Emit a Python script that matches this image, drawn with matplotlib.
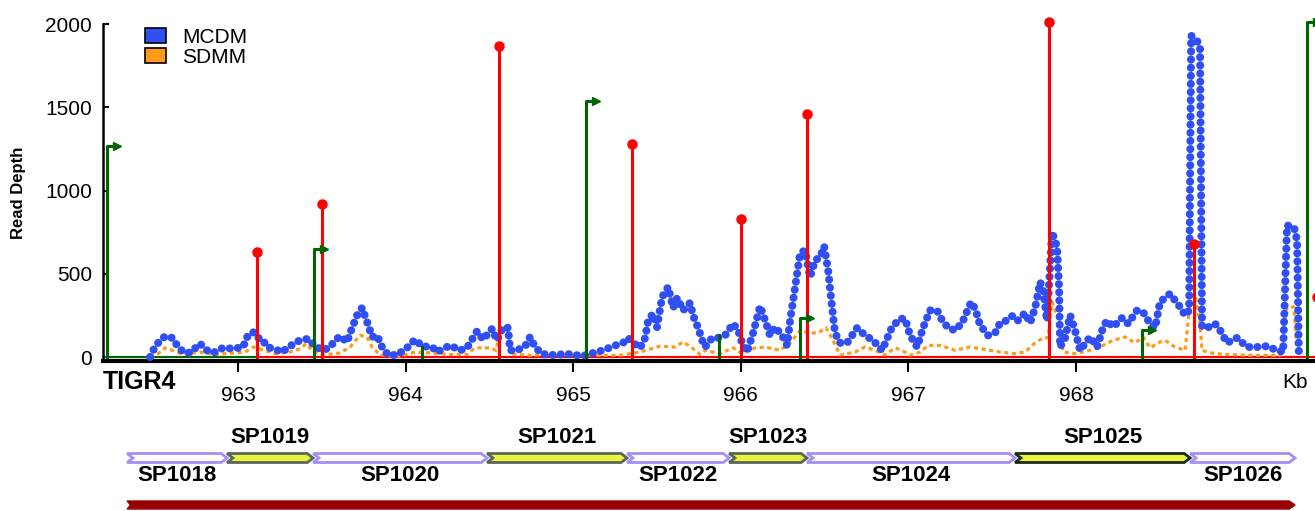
import matplotlib
matplotlib.use('Agg')
import matplotlib.pyplot as plt
from matplotlib.patches import Polygon, Patch
import numpy as np

plt.rcParams['font.family'] = ['Liberation Sans', 'DejaVu Sans']

# read depth, MCDM (position in kb, depth)
mcdm_kb = [962.475, 962.493, 962.523, 962.564, 962.606, 962.636, 962.672, 962.714, 962.773,
           962.815, 962.851, 962.910, 962.970, 963.030, 963.054, 963.090, 963.113, 963.143, 963.173,
           963.209, 963.263, 963.310, 963.358, 963.418, 963.459, 963.507, 963.549, 963.579, 963.609,
           963.650, 963.680, 963.710, 963.740, 963.770, 963.800, 963.829, 963.859, 963.895, 963.949,
           964.008, 964.056, 964.098, 964.158, 964.187, 964.265, 964.325, 964.366, 964.426, 964.462,
           964.516, 964.545, 964.581, 964.611, 964.623, 964.665, 964.713, 964.742, 964.772, 964.814,
           964.880, 964.963, 965.059, 965.118, 965.178, 965.238, 965.297, 965.327, 965.357, 965.399,
           965.429, 965.447, 965.476, 965.500, 965.530, 965.566, 965.596, 965.620, 965.655, 965.697,
           965.715, 965.745, 965.775, 965.787, 965.829, 965.864, 965.906, 965.954, 965.984, 966.007,
           966.037, 966.073, 966.115, 966.145, 966.174, 966.204, 966.246, 966.276, 966.294, 966.324,
           966.354, 966.383, 966.413, 966.443, 966.473, 966.497, 966.521, 966.544, 966.562, 966.592,
           966.634, 966.694, 966.741, 966.789, 966.843, 966.902, 966.950, 966.980, 967.010, 967.052,
           967.087, 967.129, 967.171, 967.201, 967.237, 967.278, 967.320, 967.374, 967.398, 967.428,
           967.475, 967.517, 967.547, 967.589, 967.624, 967.654, 967.696, 967.726, 967.756, 967.786,
           967.804, 967.827, 967.857, 967.887, 967.899, 967.905, 967.935, 967.965, 967.994, 968.024,
           968.084, 968.126, 968.162, 968.185, 968.221, 968.275, 968.311, 968.364, 968.400, 968.442,
           968.472, 968.501, 968.561, 968.591, 968.621, 968.651, 968.675, 968.687, 968.722, 968.740,
           968.752, 968.782, 968.830, 968.860, 968.901, 968.961, 969.021, 969.080, 969.140, 969.200,
           969.236, 969.259, 969.301, 969.319, 969.330]
mcdm_depth = [0, 40, 85, 125, 115, 70, 30, 25, 80,
              40, 25, 55, 50, 60, 120, 150, 115, 110, 60,
              50, 30, 65, 95, 110, 65, 40, 60, 100, 125,
              90, 175, 250, 295, 210, 120, 130, 60, 12, 12,
              55, 105, 65, 60, 30, 70, 40, 55, 155, 105,
              170, 100, 180, 175, 40, 40, 65, 120, 60, 18,
              12, 18, 6, 24, 40, 65, 85, 115, 85, 55,
              115, 220, 260, 180, 360, 420, 295, 355, 280, 325,
              250, 175, 85, 60, 115, 115, 130, 200, 160, 85,
              30, 145, 305, 220, 130, 180, 130, 70, 220, 420,
              625, 640, 480, 580, 600, 665, 520, 300, 145, 85,
              85, 175, 130, 100, 40, 180, 230, 230, 130, 60,
              175, 280, 280, 220, 175, 160, 205, 330, 290, 190,
              130, 145, 205, 220, 250, 220, 265, 205, 295, 450,
              400, 220, 750, 660, 420, 60, 115, 250, 160, 40,
              120, 60, 180, 220, 180, 235, 200, 280, 270, 200,
              175, 330, 380, 340, 300, 250, 280, 1930, 1900, 1860,
              180, 175, 200, 160, 85, 115, 60, 60, 65, 40,
              30, 790, 780, 700, 0]

# read depth, SDMM
sdmm_kb = [962.475, 962.523, 962.564, 962.624, 962.672, 962.773, 962.863, 962.982, 963.042,
           963.090, 963.143, 963.221, 963.310, 963.370, 963.406, 963.442, 963.507, 963.609, 963.668,
           963.728, 963.770, 963.800, 963.847, 963.967, 964.056, 964.146, 964.265, 964.366, 964.414,
           964.504, 964.539, 964.569, 964.605, 964.623, 964.742, 964.832, 964.951, 965.041, 965.160,
           965.280, 965.399, 965.518, 965.608, 965.655, 965.697, 965.757, 965.787, 965.876, 965.954,
           966.007, 966.085, 966.145, 966.234, 966.294, 966.354, 966.401, 966.461, 966.509, 966.550,
           966.592, 966.682, 966.741, 966.801, 966.861, 966.920, 966.980, 967.010, 967.070, 967.117,
           967.189, 967.278, 967.368, 967.457, 967.547, 967.636, 967.696, 967.756, 967.804, 967.833,
           967.857, 967.893, 967.905, 967.923, 967.994, 968.084, 968.143, 968.221, 968.293, 968.352,
           968.400, 968.442, 968.501, 968.531, 968.591, 968.651, 968.681, 968.716, 968.740, 968.752,
           968.800, 968.889, 969.038, 969.217, 969.259, 969.301, 969.319]
sdmm_depth = [0, 20, 55, 35, 15, 30, 15, 25, 30,
              60, 45, 20, 30, 50, 80, 40, 12, 25, 60,
              130, 120, 60, 12, 5, 30, 25, 15, 15, 55,
              55, 40, 180, 170, 20, 10, 12, 30, 15, 10,
              10, 30, 65, 60, 90, 65, 15, 40, 20, 55,
              20, 55, 60, 40, 85, 160, 145, 145, 175, 100,
              12, 30, 60, 40, 12, 55, 30, 10, 30, 70,
              70, 40, 60, 45, 30, 20, 30, 85, 115, 115,
              330, 240, 160, 30, 20, 40, 60, 100, 120, 85,
              120, 55, 90, 100, 60, 40, 330, 350, 200, 40,
              25, 15, 10, 10, 300, 300, 0]

# red sites (kb, height)
red_kb = [963.113, 963.501, 964.557, 965.351, 966.001, 966.395, 967.839, 968.704, 969.435]
red_h = [630, 920, 1870, 1280, 830, 1460, 2010, 680, 360]

# green TSS arrows (kb, height)
tss_kb = [962.218, 963.453, 965.077, 966.354, 968.394, 969.380]
tss_h = [1265, 650, 1540, 235, 160, 2015]
# short green marks without arrow head
green_kb = [964.098, 965.870]
green_h = [60, 130]

genes = ['SP1018', 'SP1019', 'SP1020', 'SP1021', 'SP1022', 'SP1023', 'SP1024', 'SP1025', 'SP1026']
gene_start = [962.338, 962.934, 963.448, 964.486, 965.321, 965.930, 966.395, 967.636, 968.681]
gene_end = [962.934, 963.448, 964.486, 965.321, 965.930, 966.395, 967.636, 968.681, 969.307]
gene_hit = [False, True, False, True, False, True, False, True, False]

xmin, xmax = 962.194, 969.426

fig = plt.figure(figsize=(13.15, 5.11), dpi=100)
ax = fig.add_axes([103 / 1315, 1 - 361 / 511, 1212 / 1315, 337 / 511])

# zero lines
ax.plot([xmin, xmax], [0, 0], color='#2f4ff5', lw=1.5, ls=(0, (4, 3)), zorder=2)
ax.plot([red_kb[0], xmax], [0, 0], color='#ff0000', lw=1.5, zorder=3)
ax.plot([tss_kb[0], red_kb[0]], [0, 0], color='#006400', lw=1.5, zorder=3)

ax.plot(sdmm_kb, sdmm_depth, color='#ff9a1a', lw=2.3, dashes=(1.3, 1.1), zorder=4)
ax.plot(mcdm_kb, mcdm_depth, color='#2f4ff5', lw=5.8, dashes=(0.01, 1.0),
        dash_capstyle='round', solid_joinstyle='round', zorder=5)

for x, h in zip(red_kb, red_h):
    ax.plot([x, x], [0, h], color='#ff0000', lw=2.2, zorder=6, clip_on=False)
    ax.plot(x, h, 'o', color='#ff0000', ms=6.5, zorder=7, clip_on=False)

for x, h in zip(tss_kb, tss_h):
    ax.plot([x, x, x + 0.05], [0, h, h], color='#006400', lw=2.2, zorder=6, clip_on=False)
    ax.plot(x + 0.06, h, '>', color='#006400', ms=6, zorder=6, clip_on=False)

for x, h in zip(green_kb, green_h):
    ax.plot([x, x], [0, h], color='#006400', lw=2.2, zorder=6)

ax.set_xlim(xmin, xmax)
ax.set_ylim(-24, 2000)
ax.spines['top'].set_visible(False)
ax.spines['right'].set_visible(False)
ax.spines['left'].set_linewidth(1.8)
ax.spines['bottom'].set_linewidth(3)
ax.set_yticks([0, 500, 1000, 1500, 2000])
ax.set_xticks([963, 964, 965, 966, 967, 968])
ax.tick_params(axis='y', direction='in', length=4, width=1.5, labelsize=15, pad=8)
ax.tick_params(axis='x', direction='out', length=8, width=1.5, labelsize=15, pad=10)
ax.set_ylabel('Read Depth', fontsize=12, fontweight='bold', labelpad=14)

fig.text(103 / 1315, 1 - 382 / 511, 'TIGR4', fontsize=18, fontweight='bold', va='center', ha='left')
fig.text(1295 / 1315, 1 - 382 / 511, 'Kb', fontsize=15, va='center', ha='center')

handles = [Patch(facecolor='#2f4ff5', edgecolor='black', lw=1.2),
           Patch(facecolor='#ff9a1a', edgecolor='black', lw=1.2)]
ax.legend(handles, ['MCDM', 'SDMM'], loc='upper left', bbox_to_anchor=(0.026, 1.02),
          frameon=False, fontsize=15, handlelength=1.0, handleheight=0.7,
          handletextpad=0.8, labelspacing=0.05, borderpad=0)

# gene track
gx = fig.add_axes([103 / 1315, 0, 1212 / 1315, 92 / 511])
gx.set_xlim(xmin, xmax)
gx.set_ylim(0, 92)
gx.axis('off')

tip = 0.035
gy, gh = 53, 9
for name, s, e, hit in zip(genes, gene_start, gene_end, gene_hit):
    pts = [(s, gy - gh / 2), (e - tip, gy - gh / 2), (e, gy), (e - tip, gy + gh / 2),
           (s, gy + gh / 2), (s + tip, gy)]
    if hit:
        edge = '#1c2a1c' if name == 'SP1025' else '#5b665b'
        gx.add_patch(Polygon(pts, closed=True, facecolor='#e8f53c', edgecolor=edge, lw=2, zorder=3))
        gx.text((s + e) / 2, 74, name, fontsize=16, fontweight='bold', ha='center', va='center')
    else:
        gx.add_patch(Polygon(pts, closed=True, facecolor='white', edgecolor='#a48ff7', lw=2, zorder=2))
        gx.text((s + e) / 2, 36, name, fontsize=16, fontweight='bold', ha='center', va='center')

s, e = gene_start[0], gene_end[-1]
by, bh = 6, 8
bar = [(s, by - bh / 2), (e - tip, by - bh / 2), (e, by), (e - tip, by + bh / 2),
       (s, by + bh / 2), (s + 0.02, by)]
gx.add_patch(Polygon(bar, closed=True, facecolor='#990000', edgecolor='#990000', lw=1))

fig.savefig('out.png', dpi=100)
